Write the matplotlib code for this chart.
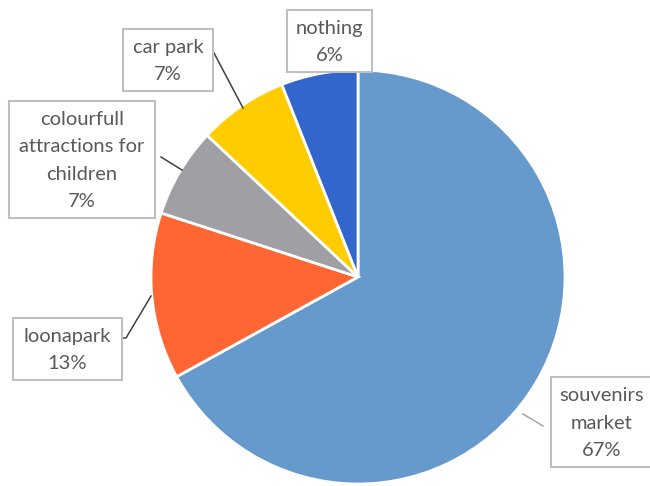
import matplotlib
matplotlib.use("Agg")
import matplotlib.pyplot as plt
from matplotlib.patches import Rectangle
from matplotlib.lines import Line2D

W, H = 650, 486

labels = ["souvenirs\nmarket", "loonapark", "colourfull\nattractions for\nchildren", "car park", "nothing"]
shares = [67, 13, 7, 7, 6]
colors = ["#6699CC", "#FF6633", "#A0A0A4", "#FFCC00", "#3366CC"]

# label boxes in pixels: left, top, right, bottom
boxes = [
    (551, 377, 652, 467),
    (13, 318, 122, 380),
    (9, 101, 155, 218),
    (123, 29, 213, 91),
    (287, 10, 372, 72),
]
# leader lines in pixels (pie side first)
leaders = [
    ([523, 543], [414, 426], "#A6A6A6"),
    ([151, 126, 123], [296, 338, 338], "#404040"),
    ([182, 161], [170, 157], "#404040"),
    ([243, 214], [108, 53], "#404040"),
    None,
]

plt.rcParams['font.family'] = ['Lato', 'DejaVu Sans']

fig = plt.figure(figsize=(W / 100, H / 100), dpi=100)
cx, cy, r = 358, 277, 207
ax = fig.add_axes([(cx - r) / W, (H - cy - r) / H, 2 * r / W, 2 * r / H])
ax.pie(shares, colors=colors, startangle=90, counterclock=False,
       wedgeprops=dict(edgecolor="white", linewidth=2))
ax.set_xlim(-1, 1)
ax.set_ylim(-1, 1)
ax.set_aspect("equal")
ax.axis("off")


def fx(x):
    return x / W


def fy(y):
    return 1 - y / H


for lab, val, box, lead in zip(labels, shares, boxes, leaders):
    x0, y0, x1, y1 = box
    fig.patches.append(Rectangle((fx(x0), fy(y1)), fx(x1 - x0), (y1 - y0) / H,
                                 transform=fig.transFigure, facecolor="white",
                                 edgecolor="#BFBFBF", linewidth=1.5, zorder=3))
    fig.text(fx((x0 + x1) / 2), fy((y0 + y1) / 2 + 1), f"{lab}\n{val}%",
             ha="center", va="center", color="#595959", fontsize=14.5,
             linespacing=1.72, zorder=4)
    if lead:
        xs, ys, c = lead
        fig.lines.append(Line2D([fx(v) for v in xs], [fy(v) for v in ys],
                                transform=fig.transFigure, color=c, linewidth=1.1))

fig.savefig("out.png", dpi=100, facecolor="white")
